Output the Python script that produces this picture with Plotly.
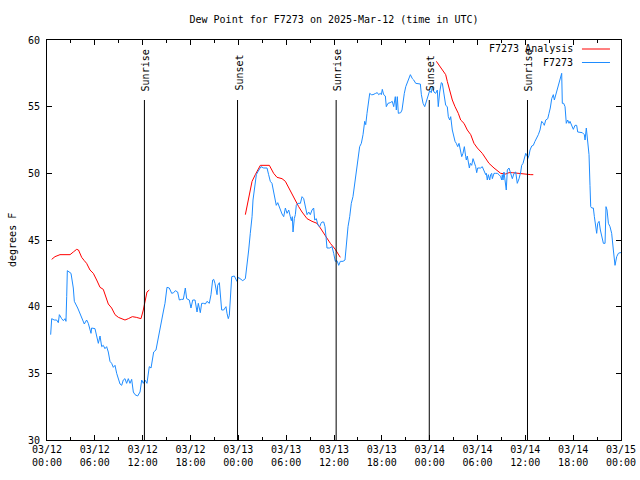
import plotly.graph_objects as go

# ---- data (hours since 2025-03-12 00:00 UTC) ----
blue_hours = [0.46, 0.59, 0.9, 1.21, 1.42, 1.55, 1.84, 2.05, 2.26, 2.38, 2.47, 2.55, 3.01, 3.1, 3.3, 3.43, 3.64, 3.85,
              4.06, 4.35, 4.68, 4.97, 5.18, 5.52, 5.6, 6.02, 6.23, 6.44, 6.65, 6.86, 7.06, 7.27, 7.48, 7.69, 7.9,
              8.11, 8.32, 8.53, 8.74, 8.95, 9.16, 9.37, 9.57, 9.78, 9.99, 10.2, 10.41, 10.62, 10.83, 11.04, 11.37,
              11.67, 11.88, 12.08, 12.29, 12.54, 12.71, 12.83, 13.05, 13.26, 13.38, 13.67, 13.88, 14.01, 14.22,
              14.38, 14.63, 14.8, 15.05, 15.34, 15.64, 15.89, 16.1, 16.39, 16.6, 16.89, 17.1, 17.35, 17.52, 17.85,
              18.06, 18.28, 18.57, 18.82, 18.98, 19.23, 19.4, 19.65, 19.86, 20.07, 20.36, 20.57, 20.78, 20.91,
              21.07, 21.33, 21.41, 21.62, 21.74, 21.91, 22.16, 22.45, 22.58, 22.74, 22.87, 23.0, 23.17, 23.5,
              23.71, 23.83, 24.0, 24.25, 24.34, 24.55, 24.88, 25.09, 25.3, 25.5, 25.72, 25.84, 26.0, 26.13, 26.26,
              26.43, 26.68, 26.84, 27.18, 27.6, 27.8, 28.01, 28.22, 28.43, 28.64, 28.76, 28.94, 29.1, 29.27, 29.48,
              29.69, 29.9, 30.11, 30.32, 30.52, 30.65, 30.77, 30.86, 31.02, 31.15, 31.27, 31.44, 31.78, 31.99,
              32.2, 32.4, 32.62, 32.83, 33.03, 33.24, 33.45, 33.58, 33.78, 34.0, 34.21, 34.37, 34.5, 34.71, 34.87,
              35.0, 35.12, 35.46, 35.75, 35.96, 36.16, 36.38, 36.59, 36.79, 37.13, 37.38, 37.55, 37.76, 37.97,
              38.17, 38.38, 38.6, 38.8, 39.01, 39.22, 39.43, 39.64, 39.85, 39.98, 40.14, 40.35, 40.48, 40.68,
              40.89, 41.23, 41.43, 41.6, 41.81, 41.94, 42.06, 42.23, 42.44, 42.56, 42.77, 43.06, 43.31, 43.49,
              43.69, 43.82, 43.94, 44.07, 44.37, 44.53, 44.66, 44.82, 45.0, 45.16, 45.41, 45.58, 45.83, 46.0,
              46.25, 46.54, 46.83, 46.96, 47.17, 47.38, 47.58, 47.79, 48.0, 48.2, 48.33, 48.54, 48.76, 48.96,
              49.08, 49.26, 49.46, 49.59, 49.8, 50.01, 50.21, 50.34, 50.51, 50.64, 50.84, 51.05, 51.18, 51.34,
              51.52, 51.68, 51.89, 52.02, 52.18, 52.35, 52.52, 52.6, 52.72, 52.85, 52.98, 53.1, 53.27, 53.44,
              53.56, 53.77, 53.9, 54.02, 54.19, 54.4, 54.6, 54.82, 55.03, 55.11, 55.23, 55.36, 55.53, 55.65,
              55.78, 55.86, 56.07, 56.28, 56.49, 56.7, 56.91, 57.03, 57.11, 57.2, 57.32, 57.45, 57.61, 57.74,
              57.95, 58.16, 58.37, 58.58, 58.79, 58.99, 59.21, 59.42, 59.54, 59.71, 59.83, 60.05, 60.26, 60.3,
              60.46, 60.59, 60.8, 61.0, 61.21, 61.43, 61.63, 61.84, 62.05, 62.26, 62.38, 62.56, 62.81, 62.97,
              63.13, 63.31, 63.51, 63.64, 63.81, 63.97, 64.14, 64.31, 64.44, 64.56, 64.64, 64.81, 64.98, 65.14,
              65.31, 65.48, 65.6, 65.82, 66.02, 66.23, 66.44, 66.57, 66.86, 67.15, 67.4, 67.49, 67.65, 67.83,
              67.99, 68.11, 68.2, 68.33, 68.53, 68.66, 68.83, 68.95, 69.08, 69.25, 69.41, 69.58, 69.79, 70.0,
              70.12, 70.25, 70.42, 70.62, 70.83, 71.04, 71.17, 71.25, 71.46, 71.67, 71.88, 72.0]
blue_values = [37.9, 39.1, 39.0, 39.0, 38.8, 39.4, 39.1, 38.95, 39.1, 38.9, 40.75, 42.7, 42.5, 42.15, 41.4, 40.4, 40.2,
               39.9, 39.6, 39.15, 38.7, 39.0, 38.75, 38.0, 38.4, 38.35, 37.9, 37.25, 37.8, 37.0, 37.1, 36.85, 37.0,
               36.6, 35.9, 35.75, 35.45, 35.6, 35.0, 34.5, 34.2, 34.1, 34.5, 34.6, 34.25, 34.6, 34.25, 34.55, 33.6,
               33.4, 33.3, 33.6, 34.5, 34.25, 34.5, 34.25, 35.25, 35.5, 35.4, 36.25, 36.6, 36.75, 37.4, 38.1, 38.75,
               39.25, 39.75, 40.25, 41.45, 41.4, 41.0, 41.05, 41.2, 41.1, 40.5, 40.55, 40.55, 41.4, 40.6, 40.5,
               39.9, 40.5, 40.5, 39.6, 40.25, 39.55, 40.25, 40.25, 40.2, 40.4, 40.25, 40.9, 42.0, 42.05, 41.75,
               40.9, 41.6, 41.8, 41.0, 39.75, 39.75, 40.0, 39.5, 39.1, 39.35, 40.75, 42.25, 42.3, 42.1, 41.9, 42.2,
               42.1, 42.1, 41.95, 42.1, 43.0, 44.25, 45.5, 46.75, 48.0, 48.75, 49.5, 49.9, 50.1, 50.4, 50.5, 50.4,
               50.4, 49.9, 49.4, 49.25, 48.6, 48.05, 47.6, 47.8, 47.5, 47.25, 46.95, 46.75, 47.4, 47.0, 47.25,
               46.75, 46.45, 46.75, 45.6, 46.6, 46.9, 47.6, 47.75, 47.75, 48.25, 48.1, 47.6, 46.9, 47.1, 46.9,
               47.25, 47.4, 46.5, 46.6, 46.1, 46.0, 46.25, 46.35, 46.35, 46.0, 45.25, 44.4, 44.4, 44.5, 44.0, 43.4,
               43.45, 43.1, 43.4, 43.4, 43.5, 44.75, 46.0, 46.75, 47.75, 48.25, 49.25, 50.25, 51.25, 52.0, 52.25,
               52.9, 53.9, 53.65, 54.5, 55.25, 56.0, 55.9, 55.9, 56.0, 56.05, 55.9, 56.0, 55.9, 56.3, 55.9, 55.8,
               55.0, 55.25, 55.3, 55.4, 55.0, 55.75, 54.75, 55.75, 54.5, 54.55, 54.75, 55.4, 56.0, 56.5, 56.75,
               57.0, 57.4, 57.1, 57.0, 56.75, 56.75, 56.7, 55.9, 55.25, 55.0, 55.4, 55.9, 56.2, 56.05, 56.5, 56.1,
               56.0, 56.25, 55.0, 56.1, 56.8, 56.75, 55.75, 55.1, 55.0, 54.25, 54.0, 54.25, 53.25, 52.6, 52.4,
               52.25, 52.0, 52.25, 51.75, 51.25, 51.5, 52.0, 51.25, 51.0, 51.3, 50.9, 50.4, 50.75, 50.6, 51.1,
               50.9, 50.5, 50.05, 50.4, 50.4, 50.4, 50.5, 50.15, 49.9, 50.0, 49.5, 49.9, 49.5, 49.9, 50.0, 49.6,
               50.0, 50.0, 50.0, 49.9, 49.75, 49.5, 49.9, 49.5, 50.1, 49.5, 48.75, 50.25, 50.4, 50.0, 49.6, 50.0,
               50.1, 49.25, 49.6, 50.1, 50.6, 50.75, 51.0, 51.5, 51.25, 51.1, 51.35, 51.75, 52.05, 52.1, 52.4,
               52.65, 52.9, 53.25, 53.9, 53.75, 53.6, 54.0, 54.1, 54.5, 54.9, 55.6, 55.9, 55.5, 55.9, 56.15, 56.6,
               56.9, 57.4, 57.5, 55.25, 55.25, 55.0, 53.75, 54.0, 53.75, 53.9, 53.6, 53.3, 53.6, 53.6, 53.1, 53.05,
               53.05, 52.9, 52.5, 53.4, 52.4, 51.4, 49.1, 47.5, 47.4, 47.4, 46.75, 46.0, 45.5, 46.25, 46.4, 45.75,
               45.25, 44.75, 44.75, 47.5, 47.25, 46.25, 46.0, 45.5, 44.25, 43.5, 43.1, 43.75, 44.0, 44.05, 44.05]

red_hours = [0.59, 1.0, 1.63, 2.89, 3.3, 3.72, 3.95, 4.35, 4.68, 4.97, 5.39, 5.81, 6.23, 6.65, 7.06, 7.27, 7.69,
             8.11, 8.53, 8.95, 9.37, 9.78, 10.2, 10.7, 11.2, 11.79, 12.08, 12.29, 12.54, 12.83, None,
             24.88, 25.3, 25.72, 26.13, 26.76, 27.89, 28.43, 28.85, 29.48, 29.9, 30.32, 30.73, 31.15, 31.57, 31.99,
             32.62, 33.24, 33.87, 34.29, 34.71, 35.12, 35.54, 36.16, 36.59, 36.79, None,
             48.84, 49.38, 50.01, 50.21, 50.43, 50.64, 50.84, 51.18, 51.59, 51.89, 52.31, 52.72, 53.15, 53.56,
             53.98, 54.6, 55.03, 55.44, 56.07, 56.49, 56.91, 57.54, 57.95, 58.37, 58.99, 59.62, 60.69, 61.0]
red_values = [43.55, 43.75, 43.9, 43.9, 44.1, 44.3, 44.25, 43.7, 43.45, 43.25, 42.75, 42.5, 42.0, 41.45, 41.3, 40.9,
              40.2, 39.9, 39.4, 39.2, 39.1, 39.0, 39.1, 39.25, 39.2, 39.1, 39.75, 40.5, 41.1, 41.25, None,
              46.9, 48.25, 49.4, 49.9, 50.6, 50.6, 50.0, 49.7, 49.6, 49.4, 48.9, 48.4, 47.9, 47.5, 47.1, 46.6, 46.4,
              46.25, 45.9, 45.5, 45.1, 44.75, 44.3, 43.9, 43.7, None,
              58.4, 57.9, 57.4, 56.9, 56.4, 55.9, 55.5, 55.0, 54.5, 54.0, 53.75, 53.25, 52.9, 52.25, 51.9, 51.5,
              51.1, 50.75, 50.4, 50.2, 50.0, 49.95, 50.05, 50.05, 50.0, 49.95, 49.9, 49.9]

sun_hours = [12.22, 23.9, 36.27, 47.95, 60.27]
sun_labels = ["Sunrise", "Sunset", "Sunrise", "Sunset", "Sunrise"]

tick_hours = [0, 6, 12, 18, 24, 30, 36, 42, 48, 54, 60, 66, 72]
tick_labels = ["03/12<br>00:00", "03/12<br>06:00", "03/12<br>12:00", "03/12<br>18:00",
               "03/13<br>00:00", "03/13<br>06:00", "03/13<br>12:00", "03/13<br>18:00",
               "03/14<br>00:00", "03/14<br>06:00", "03/14<br>12:00", "03/14<br>18:00",
               "03/15<br>00:00"]

series_names = ["F7273 Analysis", "F7273"]
RED = "#ff0000"
BLUE = "#1e8cff"
FONT = "DejaVu Sans Mono"

fig = go.Figure()
fig.add_trace(go.Scatter(x=red_hours, y=red_values, mode="lines", name=series_names[0],
                         line=dict(color=RED, width=1), connectgaps=False, showlegend=False))
fig.add_trace(go.Scatter(x=blue_hours, y=blue_values, mode="lines", name=series_names[1],
                         line=dict(color=BLUE, width=1), showlegend=False))

# sunrise / sunset markers
for h, lab in zip(sun_hours, sun_labels):
    fig.add_shape(type="line", xref="x", yref="paper", x0=h, x1=h, y0=0, y1=0.85,
                  line=dict(color="black", width=1))
    fig.add_annotation(x=h, xref="x", y=0.8675, yref="paper", text=lab, textangle=-90,
                       showarrow=False, xanchor="center", yanchor="bottom", xshift=2,
                       font=dict(family=FONT, size=10, color="black"))

# manual gnuplot-style legend (text left, sample right)
leg_y = [0.9775, 0.94375]
leg_col = [RED, BLUE]
for name, yy, col in zip(series_names, leg_y, leg_col):
    fig.add_annotation(x=0.9199, xref="paper", y=yy, yref="paper", text=name, showarrow=False,
                       xanchor="right", yanchor="middle", font=dict(family=FONT, size=10, color="black"))
    fig.add_shape(type="line", xref="paper", yref="paper", x0=0.932, x1=0.9808, y0=yy, y1=yy,
                  line=dict(color=col, width=1))

# y axis title
fig.add_annotation(x=-0.061, xref="paper", y=0.5, yref="paper", text="degrees F", textangle=-90,
                   showarrow=False, xanchor="center", yanchor="middle",
                   font=dict(family=FONT, size=10, color="black"))

fig.update_layout(
    width=640, height=480,
    margin=dict(l=47, r=19, t=40, b=40, autoexpand=False),
    paper_bgcolor="white", plot_bgcolor="white",
    font=dict(family=FONT, size=10, color="black"),
    title=dict(text="Dew Point for F7273 on 2025-Mar-12 (time in UTC)", x=0.5, xref="paper",
               xanchor="center", y=1 - 19 / 480, yref="container", yanchor="middle",
               font=dict(family=FONT, size=10, color="black")),
    showlegend=False,
)
fig.update_xaxes(range=[0, 72], tickmode="array", tickvals=tick_hours, ticktext=tick_labels,
                 ticks="inside", ticklen=5, tickcolor="black", showline=True, linecolor="black",
                 linewidth=1, mirror="allticks", showgrid=False, zeroline=False, automargin=False,
                 minor=dict(dtick=3, tick0=0, ticks="inside", ticklen=3, tickcolor="black", showgrid=False))
fig.update_yaxes(range=[30, 60], dtick=5, tick0=30, ticks="inside", ticklen=5, tickcolor="black",
                 showline=True, linecolor="black", linewidth=1, mirror="allticks", showgrid=False,
                 zeroline=False, ticklabelstandoff=4, automargin=False)

fig.write_html("out.html")
